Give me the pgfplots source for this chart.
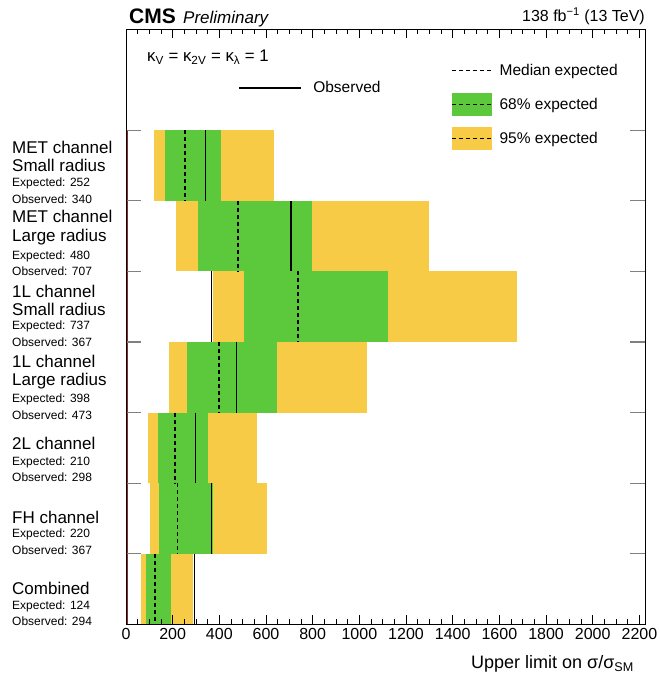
\documentclass[border=0pt]{standalone}
\usepackage{fontspec}
\setmainfont{Liberation Sans}
\usepackage{pgfplots}
\pgfplotsset{compat=1.18}
\definecolor{cmsgreen}{RGB}{92,200,60}
\definecolor{cmsyellow}{RGB}{247,203,70}
\definecolor{smred}{RGB}{150,35,35}
\newcommand{\lblbig}{\fontsize{17}{20}\selectfont}
\newcommand{\lblsml}{\fontsize{12}{14}\selectfont}
\begin{document}
\begin{tikzpicture}
\path[use as bounding box] (0pt,0pt) rectangle (660pt,678pt);
\begin{axis}[
  at={(126pt,53.7pt)}, anchor=south west,
  width=519pt, height=594.8pt, scale only axis,
  xmin=0, xmax=2224, ymin=0, ymax=8.425,
  axis on top,
  axis line style={line width=1pt},
  xtick={0,200,...,2200},
  minor x tick num=3,
  ytick={1,2,3,4,5,6,7}, yticklabels={},
  xtick style={black, line width=0.8pt, /pgfplots/major tick length=9pt, /pgfplots/minor tick length=5pt},
  ytick style={gray, line width=1.2pt, /pgfplots/major tick length=15pt},
  tick label style={font=\fontsize{16}{19}\selectfont},
  /pgf/number format/assume math mode=true,
  /pgf/number format/1000 sep={},
  xlabel={Upper limit on σ/σ\textsubscript{SM}},
  xlabel style={at={(axis description cs:1,0)}, anchor=base east, xshift=-11pt, yshift=-44pt, font=\fontsize{18}{21}\selectfont, inner sep=0pt},
  legend cell align=left,
  legend style={at={(0.6276,0.9597)}, anchor=north west, draw=none, fill=none, inner sep=0pt, outer sep=0pt, row sep=0pt, column sep=6.6pt, font=\fontsize{15.5}{18}\selectfont, nodes={inner sep=0pt}},
]
\addlegendimage{legend image code/.code={\draw[black, line width=1.3pt, dash pattern=on 4pt off 3pt] (0pt,0pt) -- (40pt,0pt); \path[draw=none, fill=none] (0pt,-17pt) rectangle (40pt,17pt);}}
\addlegendentry{Median expected}
\addlegendimage{legend image code/.code={\fill[cmsgreen, draw=none] (0pt,-11.7pt) rectangle (40pt,11.7pt); \draw[black, line width=1.3pt, dash pattern=on 4pt off 3pt] (0pt,0pt) -- (40pt,0pt); \path[draw=none, fill=none] (0pt,-17pt) rectangle (40pt,17pt);}}
\addlegendentry{68\% expected}
\addlegendimage{legend image code/.code={\fill[cmsyellow, draw=none] (0pt,-11.7pt) rectangle (40pt,11.7pt); \draw[black, line width=1.3pt, dash pattern=on 4pt off 3pt] (0pt,0pt) -- (40pt,0pt); \path[draw=none, fill=none] (0pt,-17pt) rectangle (40pt,17pt);}}
\addlegendentry{95\% expected}

% 95% bands
\addplot[forget plot, fill=cmsyellow, draw=none] coordinates {(120,6) (634,6) (634,7) (120,7)} -- cycle;
\addplot[forget plot, fill=cmsyellow, draw=none] coordinates {(214,5) (1299,5) (1299,6) (214,6)} -- cycle;
\addplot[forget plot, fill=cmsyellow, draw=none] coordinates {(374,4) (1677,4) (1677,5) (374,5)} -- cycle;
\addplot[forget plot, fill=cmsyellow, draw=none] coordinates {(183,3) (1033,3) (1033,4) (183,4)} -- cycle;
\addplot[forget plot, fill=cmsyellow, draw=none] coordinates {(96,2) (563,2) (563,3) (96,3)} -- cycle;
\addplot[forget plot, fill=cmsyellow, draw=none] coordinates {(103,1) (603,1) (603,2) (103,2)} -- cycle;
\addplot[forget plot, fill=cmsyellow, draw=none] coordinates {(63,0) (286,0) (286,1) (63,1)} -- cycle;
% 68% bands
\addplot[forget plot, fill=cmsgreen, draw=none] coordinates {(167,6) (406,6) (406,7) (167,7)} -- cycle;
\addplot[forget plot, fill=cmsgreen, draw=none] coordinates {(309,5) (796,5) (796,6) (309,6)} -- cycle;
\addplot[forget plot, fill=cmsgreen, draw=none] coordinates {(506,4) (1123,4) (1123,5) (506,5)} -- cycle;
\addplot[forget plot, fill=cmsgreen, draw=none] coordinates {(260,3) (646,3) (646,4) (260,4)} -- cycle;
\addplot[forget plot, fill=cmsgreen, draw=none] coordinates {(136,2) (350,2) (350,3) (136,3)} -- cycle;
\addplot[forget plot, fill=cmsgreen, draw=none] coordinates {(143,1) (374,1) (374,2) (143,2)} -- cycle;
\addplot[forget plot, fill=cmsgreen, draw=none] coordinates {(86,0) (193,0) (193,1) (86,1)} -- cycle;
% medians
\addplot[forget plot, black, line width=1.6pt, dash pattern=on 4pt off 3pt] coordinates {(252,7) (252,6)};
\addplot[forget plot, black, line width=1.6pt, dash pattern=on 4pt off 3pt] coordinates {(480,6) (480,5)};
\addplot[forget plot, black, line width=1.6pt, dash pattern=on 4pt off 3pt] coordinates {(737,5) (737,4)};
\addplot[forget plot, black, line width=1.6pt, dash pattern=on 4pt off 3pt] coordinates {(398,4) (398,3)};
\addplot[forget plot, black, line width=1.6pt, dash pattern=on 4pt off 3pt] coordinates {(210,3) (210,2)};
\addplot[forget plot, black, line width=1.6pt, dash pattern=on 4pt off 3pt] coordinates {(220,2) (220,1)};
\addplot[forget plot, black, line width=1.6pt, dash pattern=on 4pt off 3pt] coordinates {(124,1) (124,0)};
% observed
\addplot[forget plot, black, line width=1.6pt] coordinates {(340,7) (340,6)};
\addplot[forget plot, black, line width=1.6pt] coordinates {(707,6) (707,5)};
\addplot[forget plot, black, line width=1.6pt] coordinates {(367,5) (367,4)};
\addplot[forget plot, black, line width=1.6pt] coordinates {(473,4) (473,3)};
\addplot[forget plot, black, line width=1.6pt] coordinates {(298,3) (298,2)};
\addplot[forget plot, black, line width=1.6pt] coordinates {(367,2) (367,1)};
\addplot[forget plot, black, line width=1.6pt] coordinates {(294,1) (294,0)};
% SM reference
\addplot[forget plot, smred, line width=2.6pt] coordinates {(1,0) (1,7)};
\end{axis}
\begin{axis}[
  at={(126pt,53.7pt)}, anchor=south west,
  width=519pt, height=594.8pt, scale only axis,
  xmin=0, xmax=1, ymin=0, ymax=1, hide axis,
  legend cell align=left,
  legend style={at={(0.2158,0.930)}, anchor=north west, draw=none, fill=none, inner sep=0pt, outer sep=0pt, row sep=0pt, column sep=11.7pt, font=\fontsize{15.5}{18}\selectfont, nodes={inner sep=0pt}},
]
\addlegendimage{legend image code/.code={\draw[black, line width=1.6pt] (0pt,0pt) -- (62pt,0pt); \path[draw=none, fill=none] (0pt,-17pt) rectangle (62pt,17pt);}}
\addlegendentry{Observed}
\end{axis}
% header
\node[anchor=base west, inner sep=0pt, font=\fontsize{21}{24}\selectfont\bfseries] at (129pt,654pt) {CMS};
\node[anchor=base west, inner sep=0pt, font=\fontsize{17}{20}\selectfont\itshape] at (183pt,654pt) {Preliminary};
\node[anchor=base east, inner sep=0pt, font=\fontsize{16}{19}\selectfont] at (645pt,656pt) {138 fb\textsuperscript{−1} (13 TeV)};
\node[anchor=base west, inner sep=0pt, font=\fontsize{16.8}{19}\selectfont] at (147pt,616.5pt) {κ\textsubscript{V} = κ\textsubscript{2V} = κ\textsubscript{λ} = 1};
% row labels
\begin{scope}[every node/.style={anchor=base west, inner sep=0pt}]
\node[font=\lblbig] at (12pt,524.9pt) {MET channel};
\node[font=\lblbig] at (12pt,506.4pt) {Small radius};
\node[font=\lblsml] at (12pt,491.2pt) {Expected: 252};
\node[font=\lblsml] at (12pt,474.2pt) {Observed: 340};
\node[font=\lblbig] at (12pt,455.4pt) {MET channel};
\node[font=\lblbig] at (12pt,436.4pt) {Large radius};
\node[font=\lblsml] at (12pt,418.2pt) {Expected: 480};
\node[font=\lblsml] at (12pt,402.2pt) {Observed: 707};
\node[font=\lblbig] at (12pt,380.9pt) {1L channel};
\node[font=\lblbig] at (12pt,362.9pt) {Small radius};
\node[font=\lblsml] at (12pt,348.2pt) {Expected: 737};
\node[font=\lblsml] at (12pt,331.7pt) {Observed: 367};
\node[font=\lblbig] at (12pt,310.4pt) {1L channel};
\node[font=\lblbig] at (12pt,292.4pt) {Large radius};
\node[font=\lblsml] at (12pt,275.2pt) {Expected: 398};
\node[font=\lblsml] at (12pt,258.7pt) {Observed: 473};
\node[font=\lblbig] at (12pt,228.4pt) {2L channel};
\node[font=\lblsml] at (12pt,212.2pt) {Expected: 210};
\node[font=\lblsml] at (12pt,196.7pt) {Observed: 298};
\node[font=\lblbig] at (12pt,154.4pt) {FH channel};
\node[font=\lblsml] at (12pt,140.2pt) {Expected: 220};
\node[font=\lblsml] at (12pt,123.2pt) {Observed: 367};
\node[font=\lblbig] at (12pt,83.4pt) {Combined};
\node[font=\lblsml] at (12pt,68.2pt) {Expected: 124};
\node[font=\lblsml] at (12pt,52.2pt) {Observed: 294};
\end{scope}
\end{tikzpicture}
\end{document}
